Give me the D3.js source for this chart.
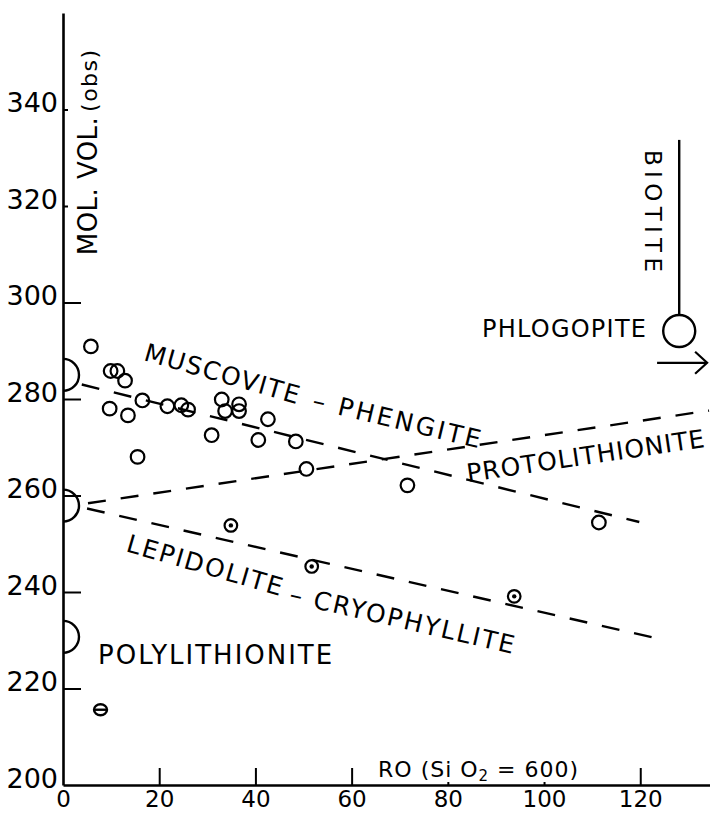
<!DOCTYPE html>
<html>
<head>
<meta charset="utf-8">
<script src="https://cdnjs.cloudflare.com/ajax/libs/d3/7.8.5/d3.min.js"></script>
<style>
  body { margin: 0; background: #fff; }
  text { font-family: "DejaVu Sans", sans-serif; fill: #000; }
</style>
</head>
<body>
<script>
let width = 710;
let height = 819;

// axis ticks
var xTicks = [0, 20, 40, 60, 80, 100, 120];
var yTicks = [200, 220, 240, 260, 280, 300, 320, 340];

// open circles (RO, mol. vol.)
var openX = [5.8, 9.9, 11.3, 12.9, 9.7, 13.5, 16.5, 15.5, 21.7, 24.6, 26.0, 33.0, 33.7, 36.6, 36.6, 30.9, 42.6, 40.6, 48.4, 50.6, 71.6, 111.4];
var openY = [290.9, 285.8, 285.8, 283.8, 278.0, 276.6, 279.7, 268.0, 278.5, 278.7, 277.8, 279.9, 277.5, 278.9, 277.5, 272.5, 275.8, 271.5, 271.2, 265.5, 262.1, 254.4];

// dotted circles
var dotX = [34.9, 51.7, 93.8];
var dotY = [253.8, 245.3, 239.1];

// barred circle
var barX = [7.8];
var barY = [215.6];

// end members sitting on the y axis (half circles)
var endY = [285.0, 257.9, 230.7];

// trend lines, [x, y] ends
var muscoviteLine = [[3.9, 283.0], [119.8, 254.5]];
var protoLine = [[5.2, 258.4], [134.3, 277.6]];
var lepidoLine = [[5.0, 257.3], [122.5, 230.6]];

// phlogopite / biotite
var phlogopite = [128.1, 294.1];
var biotiteTop = 333.7;
var arrowY = 287.5;
var arrowX = [123.5, 133.9];

var svg = d3.select('body')
            .append('svg')
            .attr('width', width)
            .attr('height', height);

var x = d3.scaleLinear().domain([0, 134.5]).range([63, 710]);
var y = d3.scaleLinear().domain([200, 360]).range([785, 13]);

// axes
var yAxis = svg.append('g')
    .attr('transform', 'translate(' + x(0) + ',0)')
    .call(d3.axisLeft(y).tickValues(yTicks).tickSizeInner(-18).tickSizeOuter(0).tickPadding(5));

var xAxis = svg.append('g')
    .attr('transform', 'translate(0,' + y(200) + ')')
    .call(d3.axisBottom(x).tickValues(xTicks).tickSizeInner(-17).tickSizeOuter(0).tickPadding(6));

yAxis.select('.domain').attr('stroke-width', 2.6);
xAxis.select('.domain').attr('stroke-width', 2.4);
yAxis.selectAll('.tick line').attr('stroke-width', 2)
    .attr('x2', function(d) { return (d >= 320) ? 5 : (d == 200 ? 0 : 18); });
xAxis.selectAll('.tick line').attr('stroke-width', 2)
    .attr('y2', function(d) { return (d == 80 || d == 100) ? -3 : (d == 0 ? 0 : -17); });

yAxis.selectAll('.tick text').attr('font-size', 27).attr('dy', 2)
    .style('font-family', '"DejaVu Sans", sans-serif');
xAxis.selectAll('.tick text').attr('font-size', 23)
    .style('font-family', '"DejaVu Sans", sans-serif');

// half circles on the axis
svg.selectAll('.end')
    .data(endY)
    .enter()
    .append('path')
    .attr('d', function(d) {
      var cy = y(d), r = 16;
      return 'M' + x(0) + ',' + (cy - r) + ' A' + r + ',' + r + ' 0 0 1 ' + x(0) + ',' + (cy + r);
    })
    .attr('fill', 'none').attr('stroke', '#000').attr('stroke-width', 2.4);

// dashed lines
[muscoviteLine, protoLine, lepidoLine].forEach(function(l) {
  svg.append('line')
      .attr('x1', x(l[0][0])).attr('y1', y(l[0][1]))
      .attr('x2', x(l[1][0])).attr('y2', y(l[1][1]))
      .attr('stroke', '#000').attr('stroke-width', 2.4)
      .attr('stroke-dasharray', '18,15');
});

// points
var open = d3.range(openX.length).map(function(i) { return [openX[i], openY[i]]; });
svg.selectAll('.open')
    .data(open)
    .enter()
    .append('circle')
    .attr('cx', function(d) { return x(d[0]); })
    .attr('cy', function(d) { return y(d[1]); })
    .attr('r', 6.8)
    .attr('fill', 'none').attr('stroke', '#000').attr('stroke-width', 2.2);

var dots = d3.range(dotX.length).map(function(i) { return [dotX[i], dotY[i]]; });
var dg = svg.selectAll('.dot')
    .data(dots)
    .enter()
    .append('g')
    .attr('transform', function(d) { return 'translate(' + x(d[0]) + ',' + y(d[1]) + ')'; });
dg.append('circle').attr('r', 6.3).attr('fill', '#fff').attr('stroke', '#000').attr('stroke-width', 2.2);
dg.append('circle').attr('r', 2.2).attr('fill', '#000');

var bars = d3.range(barX.length).map(function(i) { return [barX[i], barY[i]]; });
var bg = svg.selectAll('.bar')
    .data(bars)
    .enter()
    .append('g')
    .attr('transform', function(d) { return 'translate(' + x(d[0]) + ',' + y(d[1]) + ')'; });
bg.append('ellipse').attr('rx', 6.5).attr('ry', 5.5).attr('fill', 'none').attr('stroke', '#000').attr('stroke-width', 2.4);
bg.append('line').attr('x1', -6).attr('x2', 6).attr('stroke', '#000').attr('stroke-width', 2.4);

// phlogopite, biotite line, arrow
var pr = 16;
svg.append('line')
    .attr('x1', x(phlogopite[0])).attr('x2', x(phlogopite[0]))
    .attr('y1', y(biotiteTop)).attr('y2', y(phlogopite[1]) - pr)
    .attr('stroke', '#000').attr('stroke-width', 2.4);
svg.append('circle')
    .attr('cx', x(phlogopite[0])).attr('cy', y(phlogopite[1])).attr('r', pr)
    .attr('fill', 'none').attr('stroke', '#000').attr('stroke-width', 2.4);
svg.append('line')
    .attr('x1', x(arrowX[0])).attr('x2', x(arrowX[1]))
    .attr('y1', y(arrowY)).attr('y2', y(arrowY))
    .attr('stroke', '#000').attr('stroke-width', 2.2);
svg.append('path')
    .attr('d', 'M' + (x(arrowX[1]) - 12) + ',' + (y(arrowY) - 11) + ' L' + x(arrowX[1]) + ',' + y(arrowY) +
               ' L' + (x(arrowX[1]) - 12) + ',' + (y(arrowY) + 11))
    .attr('fill', 'none').attr('stroke', '#000').attr('stroke-width', 2.2);

// labels: [text, x, y, angle, length, size]
var labels = [
  ['MUSCOVITE', 16.6, 288.1, 16, 160, 25],
  ['\u2013 PHENGITE', 51.6, 278.1, 13.5, 172, 25],
  ['PROTOLITHIONITE', 84.2, 262.8, -8.4, 240, 25],
  ['LEPIDOLITE', 12.9, 248.5, 16.2, 161, 25],
  ['\u2013 CRYOPHYLLITE', 46.8, 237.9, 13, 230, 25],
  ['POLYLITHIONITE', 7.3, 225.1, 0, 234, 26],
  ['BIOTITE', 121.0, 331.6, 90, 122, 23],
  ['MOL. VOL.', 7.1, 309.8, -90, 138, 26],
  ['(obs)', 7.1, 339.5, -90, 62, 22],
  ['PHLOGOPITE', 87.1, 292.8, 0, 164, 24]
];

labels.forEach(function(l) {
  var px = x(l[1]), py = y(l[2]);
  svg.append('text')
      .attr('x', px).attr('y', py)
      .attr('transform', 'rotate(' + l[3] + ',' + px + ',' + py + ')')
      .attr('font-size', l[5])
      .attr('textLength', l[4])
      .attr('lengthAdjust', 'spacing')
      .text(l[0]);
});

var rt = svg.append('text')
    .attr('x', x(65.5)).attr('y', y(201.7))
    .attr('font-size', 22)
    .attr('textLength', 200)
    .attr('lengthAdjust', 'spacing');
rt.append('tspan').text('RO (Si O');
rt.append('tspan').attr('font-size', 15).attr('dy', 4).text('2');
rt.append('tspan').attr('dy', -4).text(' = 600)');
</script>
</body>
</html>
